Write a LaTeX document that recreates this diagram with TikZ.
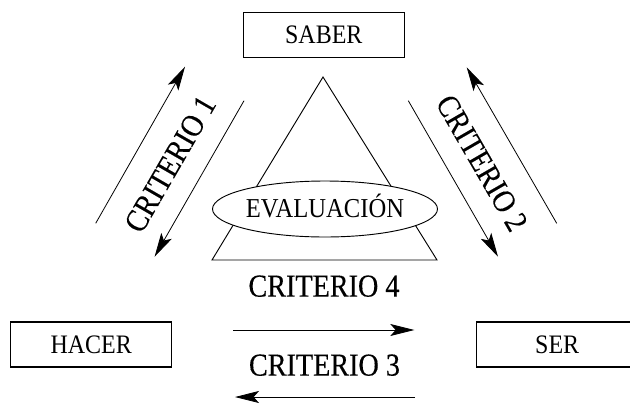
\documentclass[tikz,border=0pt]{standalone}
\usepackage{fontspec}
\setmainfont{Liberation Serif}[FakeStretch=0.9]
\newfontfamily\criteriofont{Liberation Serif}[FakeStretch=0.88, FakeBold=0.3]
\usepackage{tikz}
\usetikzlibrary{shapes.geometric, arrows.meta, positioning}

\tikzset{
    vertice/.style={draw, line width=0.8pt, minimum width=120.75pt, minimum height=33.75pt,
          inner sep=0pt, font=\fontsize{20}{20}\selectfont},
    criterio/.style={inner sep=0pt, text height=15.9pt, text depth=0pt,
          font=\criteriofont\fontsize{24}{24}\selectfont},
    flecha/.style={line width=0.6pt, -{Stealth[length=18pt, width=9pt, inset=4pt]}}
}

\begin{document}
\begin{tikzpicture}[x=0.75pt, y=-0.75pt]
    \useasboundingbox (0,0) rectangle (630,403);

    % triangulo de la evaluacion
    \coordinate (cima) at (323,77);
    \coordinate (baseizq) at (212,260);
    \coordinate (baseder) at (437,260);
    \draw[line width=0.7pt] (cima) -- (baseizq) -- (baseder) -- cycle;
    \node[draw, fill=white, ellipse, line width=0.7pt, minimum width=168.75pt, minimum height=42pt,
          inner sep=0pt, text height=12.8pt, text depth=0pt, font=\fontsize{20.5}{20.5}\selectfont]
          (evaluacion) at (325,209) {EVALUACIÓN};

    % vertices
    \node[vertice] (saber) at (323.8,35.2) {SABER};
    \node[vertice] (hacer) at (91.2,344.5) {HACER};
    \node[vertice] (ser) at (557.2,344.5) {SER};

    % criterios
    \node[criterio] (crit4) at (324,286) {CRITERIO 4};
    \node[criterio] (crit3) at (324.5,365) {CRITERIO 3};
    \node[criterio, rotate=60] (crit1) at (170,164) {CRITERIO 1};
    \node[criterio, rotate=-60] (crit2) at (482,163) {CRITERIO 2};

    % flechas
    \coordinate (c1a) at (95.7,223.3);
    \coordinate (c1b) at (185,66.7);
    \coordinate (c1c) at (244,100.7);
    \coordinate (c1d) at (154.6,256.7);
    \coordinate (c2a) at (408.3,100.7);
    \coordinate (c2b) at (498,256.7);
    \coordinate (c2c) at (556.7,223.3);
    \coordinate (c2d) at (466.7,67.3);
    \coordinate (c3a) at (233.3,330);
    \coordinate (c3b) at (414.3,330);
    \coordinate (c3c) at (415,397);
    \coordinate (c3d) at (235,397);
    \draw[flecha] (c1a) -- (c1b);
    \draw[flecha] (c1c) -- (c1d);
    \draw[flecha] (c2a) -- (c2b);
    \draw[flecha] (c2c) -- (c2d);
    \draw[flecha] (c3a) -- (c3b);
    \draw[flecha] (c3c) -- (c3d);
\end{tikzpicture}
\end{document}
